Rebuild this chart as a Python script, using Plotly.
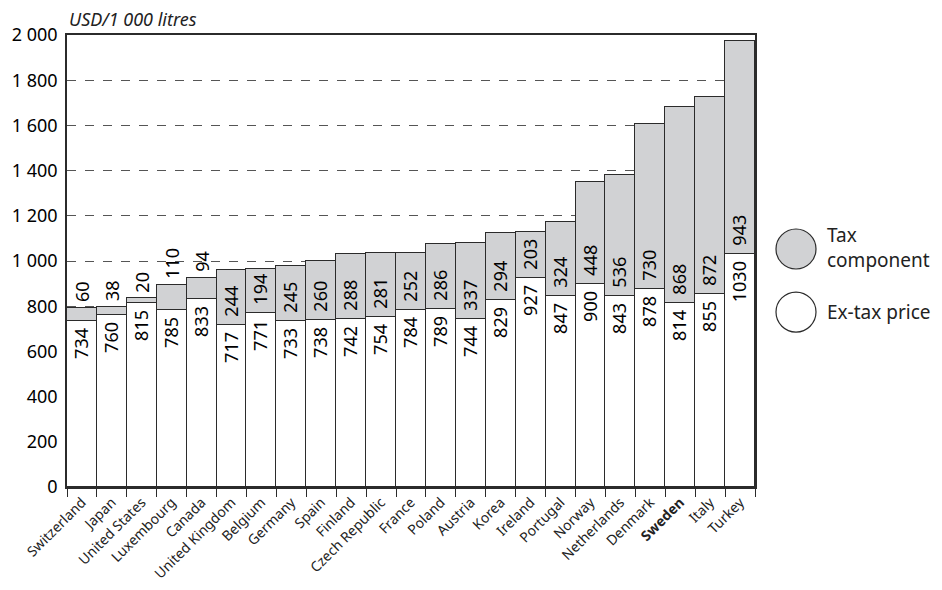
import plotly.graph_objects as go

countries = ["Switzerland", "Japan", "United States", "Luxembourg", "Canada",
             "United Kingdom", "Belgium", "Germany", "Spain", "Finland",
             "Czech Republic", "France", "Poland", "Austria", "Korea", "Ireland",
             "Portugal", "Norway", "Netherlands", "Denmark", "Sweden", "Italy", "Turkey"]
ex_tax = [734, 760, 815, 785, 833, 717, 771, 733, 738, 742, 754, 784, 789, 744,
          829, 927, 847, 900, 843, 878, 814, 855, 1030]
tax = [60, 38, 20, 110, 94, 244, 194, 245, 260, 288, 281, 252, 286, 337,
       294, 203, 324, 448, 536, 730, 868, 872, 943]
y_ticks = [0, 200, 400, 600, 800, 1000, 1200, 1400, 1600, 1800, 2000]
y_tick_text = ["0", "200", "400", "600", "800", "1 000", "1 200", "1 400", "1 600", "1 800", "2 000"]
tick_labels = ["<b>Sweden</b>" if c == "Sweden" else c for c in countries]

FONT = "Noto Sans"
GRAY = "#d1d2d4"
LINE = "#2b2b2b"
NB = "\u00a0"
SMALL = 150  # tax values below this are labelled above the bar

fig = go.Figure()
fig.add_trace(go.Bar(
    x=countries, y=ex_tax, name="Ex-tax price",
    marker=dict(color="white", line=dict(color=LINE, width=1.3)),
    text=[f"{v}{NB}" for v in ex_tax], textposition="inside", insidetextanchor="end",
    textangle=-90, textfont=dict(family=FONT, size=18, color="black"),
    constraintext="none", showlegend=False,
))
fig.add_trace(go.Bar(
    x=countries, y=tax, name="Tax component",
    marker=dict(color=GRAY, line=dict(color=LINE, width=1.3)),
    text=[f"{NB}{v}" if v >= SMALL else "" for v in tax],
    textposition="inside", insidetextanchor="start",
    textangle=-90, textfont=dict(family=FONT, size=18, color="black"),
    constraintext="none", showlegend=False,
))

annotations = [
    dict(text="<i>USD/1 000 litres</i>", xref="paper", yref="paper", x=0, y=1,
         xanchor="left", yanchor="bottom", yshift=2, showarrow=False,
         font=dict(family=FONT, size=18, color="#222")),
    dict(text="Tax<br>component", xref="paper", yref="paper", x=1, y=0.529,
         xanchor="left", yanchor="middle", xshift=70, showarrow=False, align="left",
         font=dict(family=FONT, size=19, color="#222")),
    dict(text="Ex-tax price", xref="paper", yref="paper", x=1, y=0.387,
         xanchor="left", yanchor="middle", xshift=70, showarrow=False, align="left",
         font=dict(family=FONT, size=19, color="#222")),
]
for c, e, t in zip(countries, ex_tax, tax):
    if t < SMALL:
        annotations.append(dict(
            text=str(t), x=c, y=e + t, xref="x", yref="y", showarrow=False,
            textangle=-90, xanchor="center", yanchor="middle",
            yshift=6 + len(str(t)) * 5.2,
            font=dict(family=FONT, size=18, color="black")))

fig.update_layout(
    barmode="stack", bargap=0,
    width=930, height=580,
    margin=dict(l=59, r=183, t=27, b=101),
    plot_bgcolor="white", paper_bgcolor="white",
    font=dict(family=FONT, color="black"),
    xaxis=dict(
        tickvals=countries, ticktext=tick_labels, tickangle=-45,
        tickfont=dict(family=FONT, size=14, color="#222"),
        showline=True, linecolor=LINE, linewidth=1.5, mirror=True,
        ticks="outside", tickson="boundaries", ticklen=8, tickcolor=LINE,
        showgrid=False, automargin=False,
    ),
    yaxis=dict(
        range=[0, 2000], tickvals=y_ticks, ticktext=y_tick_text,
        tickfont=dict(family=FONT, size=18, color="black"),
        showline=True, linecolor=LINE, linewidth=1.5, mirror=True,
        showgrid=True, gridcolor="#555", griddash="dash", gridwidth=1,
        zeroline=False, ticks="", ticklabelstandoff=4, automargin=False,
    ),
    annotations=annotations,
)

for yc, fill in [(0.5265, GRAY), (0.387, "white")]:
    fig.add_shape(type="circle", xref="paper", yref="paper",
                  xsizemode="pixel", ysizemode="pixel",
                  xanchor=1, yanchor=yc,
                  x0=21, x1=61, y0=-20, y1=20,
                  fillcolor=fill, line=dict(color=LINE, width=1.2))

fig.write_html("out.html")
